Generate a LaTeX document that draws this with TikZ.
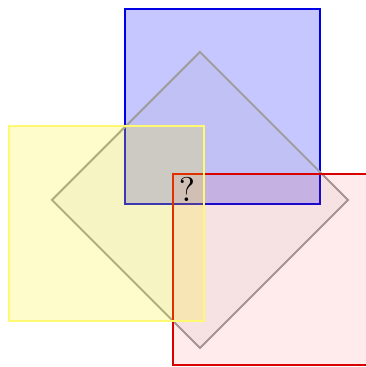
\documentclass[tikz,border=0pt]{standalone}
\usepackage{tikz}

\begin{document}
\begin{tikzpicture}[
    sheet/.style={draw, line width=0.6pt},
    ysheet/.style={sheet, draw=yellow!55, fill=yellow, fill opacity=0.2},
    bsheet/.style={sheet, draw=blue!90!black, fill=blue, fill opacity=0.22},
    gsheet/.style={sheet, draw=gray!75, fill=gray, fill opacity=0.08},
    rsheet/.style={sheet, draw=red!85!black, fill=red, fill opacity=0.08}
]
\useasboundingbox (0,0) rectangle (3.744,3.764);
\draw[bsheet] (1.282,1.672) rectangle +(2,2);
\draw[gsheet] (2.051,1.713) +(0,1.518) -- +(1.518,0) -- +(0,-1.518) -- +(-1.518,0) -- cycle;
\draw[rsheet] (1.774,0.02) rectangle +(2.1,1.96);
\draw[ysheet] (0.092,0.472) rectangle +(2,2);
\node (ask) at (1.918,1.826) {?};
\end{tikzpicture}
\end{document}
